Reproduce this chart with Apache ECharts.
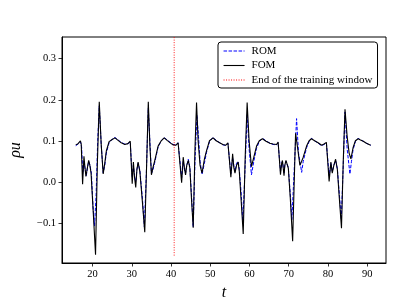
<!DOCTYPE html>
<html>
<head>
<meta charset="utf-8">
<script src="https://cdn.jsdelivr.net/npm/echarts@6/dist/echarts.min.js"></script>
<style>html,body{margin:0;padding:0;background:#fff}#c{width:407px;height:306px}</style>
</head>
<body>
<div id="c"></div>
<script>
const fomT = [15.7,16.3,16.9,17.1,17.45,17.8,18.0,18.3,18.6,19.0,19.3,19.6,20.2,20.75,21.2,21.7,22.2,22.7,23.1,23.5,24.2,25.0,25.7,26.5,27.3,28.2,29.0,29.6,
 30.1,30.4,30.7,31.0,31.3,31.6,32.05,32.7,33.3,33.8,34.2,34.6,35.0,35.4,35.8,36.7,37.5,38.25,39.0,39.8,40.5,41.2,41.8,42.1,
 42.7,43.1,43.4,43.7,44.0,44.4,44.8,45.2,45.65,46.1,46.5,46.9,47.4,47.9,48.5,49.05,49.8,50.7,51.5,52.4,53.2,53.9,54.5,54.8,
 55.25,55.7,56.0,56.3,56.7,57.1,57.4,57.9,58.4,58.9,59.4,59.9,60.5,61.1,61.8,62.5,63.3,64.2,65.2,66.0,66.9,67.3,
 67.9,68.2,68.4,68.8,69.0,69.3,69.9,70.4,71.0,71.4,71.75,72.3,72.85,73.3,73.7,74.55,75.2,75.8,76.6,77.5,78.4,79.0,79.6,
 80.3,80.75,81.1,81.5,81.95,82.4,82.9,83.45,83.9,84.35,84.9,85.4,85.85,86.4,87.0,87.7,88.3,89.0,89.8,90.9];
const fomV = [0.090,0.093,0.100,0.092,-0.006,0.062,0.040,0.013,0.030,0.052,0.040,0.022,-0.080,-0.178,0.040,0.195,0.090,0.019,0.045,0.075,0.098,0.103,0.107,0.101,0.095,0.091,0.093,0.099,
 -0.005,0.048,0.010,-0.014,0.030,0.048,0.025,-0.050,-0.123,0.050,0.195,0.090,0.017,0.035,0.050,0.087,0.100,0.107,0.101,0.095,0.090,0.089,0.095,0.098,
 -0.002,0.060,0.035,0.017,0.040,0.052,0.033,-0.040,-0.112,0.080,0.193,0.100,0.040,0.021,0.055,0.076,0.100,0.107,0.100,0.095,0.091,0.089,0.095,0.098,
 0.011,0.068,0.035,0.021,0.040,0.048,0.025,-0.050,-0.127,0.060,0.193,0.100,0.037,0.060,0.087,0.100,0.105,0.099,0.094,0.092,0.091,0.097,
 0.017,0.045,0.052,0.015,0.040,0.052,0.033,-0.040,-0.145,0.000,0.118,0.080,0.040,0.050,0.060,0.087,0.100,0.105,0.100,0.095,0.089,0.092,0.096,
 0.001,0.048,0.021,0.040,0.055,0.030,-0.040,-0.113,0.050,0.177,0.110,0.070,0.056,0.083,0.100,0.105,0.102,0.099,0.094,0.089];
const romT = [15.7,16.3,16.9,17.2,17.5,17.8,18.1,18.4,18.7,19.0,19.3,19.7,20.1,20.5,20.9,21.3,21.7,22.2,22.7,23.1,23.5,24.2,25.0,25.7,26.5,27.3,28.2,29.0,29.6,
 30.1,30.4,30.7,31.0,31.3,31.6,32.05,32.7,33.2,33.7,34.2,34.6,35.0,35.4,35.8,36.7,37.5,38.25,39.0,39.8,40.5,41.2,41.8,42.1,
 42.7,43.1,43.4,43.7,44.0,44.4,44.8,45.2,45.65,46.1,46.6,47.0,47.4,47.9,48.5,49.05,49.8,50.7,51.5,52.4,53.2,53.9,54.5,54.8,
 55.25,55.7,56.0,56.3,56.7,57.1,57.4,57.9,58.3,58.9,59.4,59.9,60.5,61.1,61.8,62.5,63.3,64.2,65.2,66.0,66.9,67.3,
 67.9,68.2,68.4,68.8,69.0,69.3,69.9,70.4,70.8,71.4,72.0,72.5,73.3,73.7,74.55,75.2,75.8,76.6,77.5,78.4,79.0,79.6,
 80.3,80.75,81.1,81.5,81.95,82.4,82.9,83.4,83.9,84.35,84.9,85.6,86.0,86.4,87.0,87.7,88.3,89.0,89.8,90.9];
const romV = [0.088,0.092,0.098,0.085,0.020,0.050,0.030,0.015,0.035,0.050,0.042,0.020,-0.060,-0.108,-0.030,0.100,0.185,0.090,0.022,0.040,0.070,0.095,0.104,0.108,0.102,0.096,0.092,0.093,0.097,
 0.010,0.040,0.015,0.000,0.030,0.045,0.028,-0.040,-0.110,0.020,0.180,0.100,0.020,0.030,0.045,0.085,0.100,0.108,0.102,0.096,0.091,0.090,0.095,0.096,
 0.010,0.050,0.030,0.020,0.040,0.055,0.035,-0.030,-0.110,0.050,0.162,0.110,0.050,0.018,0.045,0.072,0.098,0.108,0.101,0.095,0.090,0.089,0.094,0.096,
 0.020,0.060,0.040,0.025,0.045,0.050,0.030,-0.030,-0.100,0.040,0.165,0.080,0.017,0.050,0.082,0.098,0.106,0.100,0.094,0.091,0.090,0.095,
 0.025,0.045,0.050,0.020,0.040,0.050,0.035,-0.030,-0.092,0.030,0.154,0.070,0.023,0.050,0.083,0.098,0.106,0.100,0.094,0.088,0.091,0.095,
 0.015,0.045,0.025,0.040,0.052,0.032,-0.030,-0.092,0.040,0.170,0.080,0.019,0.050,0.078,0.098,0.106,0.102,0.099,0.094,0.089];
const trainEndT = 40.8;
const trainLineV = [-0.18, 0.353];
const xTicks = [20,30,40,50,60,70,80,90];
const yTicks = [-0.1,0.0,0.1,0.2,0.3];
const xRange = [12.2, 94.8];
const yRange = [-0.198, 0.353];

const SERIF = '"Liberation Serif","DejaVu Serif",serif';
const chart = echarts.init(document.getElementById('c'), null, {renderer:'canvas'});
const axisCommon = {
  axisLine:{show:true,onZero:false,lineStyle:{color:'#000',width:1}},
  axisTick:{show:true,inside:false,length:3.5,lineStyle:{color:'#000',width:0.8}},
  splitLine:{show:false},
  axisLabel:{color:'#000',fontFamily:SERIF,fontSize:10.5},
  nameTextStyle:{color:'#000',fontFamily:SERIF,fontStyle:'italic',fontSize:16},
  nameLocation:'middle'
};
chart.setOption({
  animation:false,
  backgroundColor:'#fff',
  grid:{left:61,right:21,top:37,bottom:34,show:true,borderColor:'#000',borderWidth:1,backgroundColor:'transparent'},
  legend:{
    data:['ROM','FOM','End of the training window'],
    orient:'vertical', left:218, top:42,
    padding:[3,5,2,5], itemGap:2.5, itemWidth:21, itemHeight:10,
    borderColor:'#000', borderWidth:1, borderRadius:3, backgroundColor:'#fff',
    itemStyle:{opacity:0},
    lineStyle:{width:1.1},
    textStyle:{fontFamily:SERIF,fontSize:11,color:'#000',lineHeight:12,padding:[0,0,0,2]}
  },
  xAxis:Object.assign({}, axisCommon, {
    type:'value', min:xRange[0], max:xRange[1], name:'t', nameGap:22,
    axisTick:Object.assign({}, axisCommon.axisTick, {customValues:xTicks}),
    axisLabel:Object.assign({}, axisCommon.axisLabel, {customValues:xTicks, margin:6, formatter:v=>String(Math.round(v))})
  }),
  yAxis:Object.assign({}, axisCommon, {
    type:'value', min:yRange[0], max:yRange[1], name:'ρu', nameGap:38,
    axisTick:Object.assign({}, axisCommon.axisTick, {customValues:yTicks}),
    axisLabel:Object.assign({}, axisCommon.axisLabel, {customValues:yTicks, margin:6,
      formatter:v=>(v< -1e-9?'−':'')+Math.abs(v).toFixed(1)})
  }),
  series:[
    {name:'ROM',type:'line',showSymbol:false,symbol:'none',z:2,
     data:romT.map((t,i)=>[t,romV[i]]),
     lineStyle:{color:'#0000ff',width:1,type:[3.5,1.5]},itemStyle:{color:'#0000ff'}},
    {name:'FOM',type:'line',showSymbol:false,symbol:'none',z:3,
     data:fomT.map((t,i)=>[t,fomV[i]]),
     lineStyle:{color:'#000',width:1.1,type:'solid'},itemStyle:{color:'#000'}},
    {name:'End of the training window',type:'line',showSymbol:false,symbol:'none',z:4,
     data:trainLineV.map(v=>[trainEndT,v]),
     lineStyle:{color:'#ff0000',width:0.9,type:[1,1.5]},itemStyle:{color:'#ff0000'}}
  ]
});
</script>
</body>
</html>
